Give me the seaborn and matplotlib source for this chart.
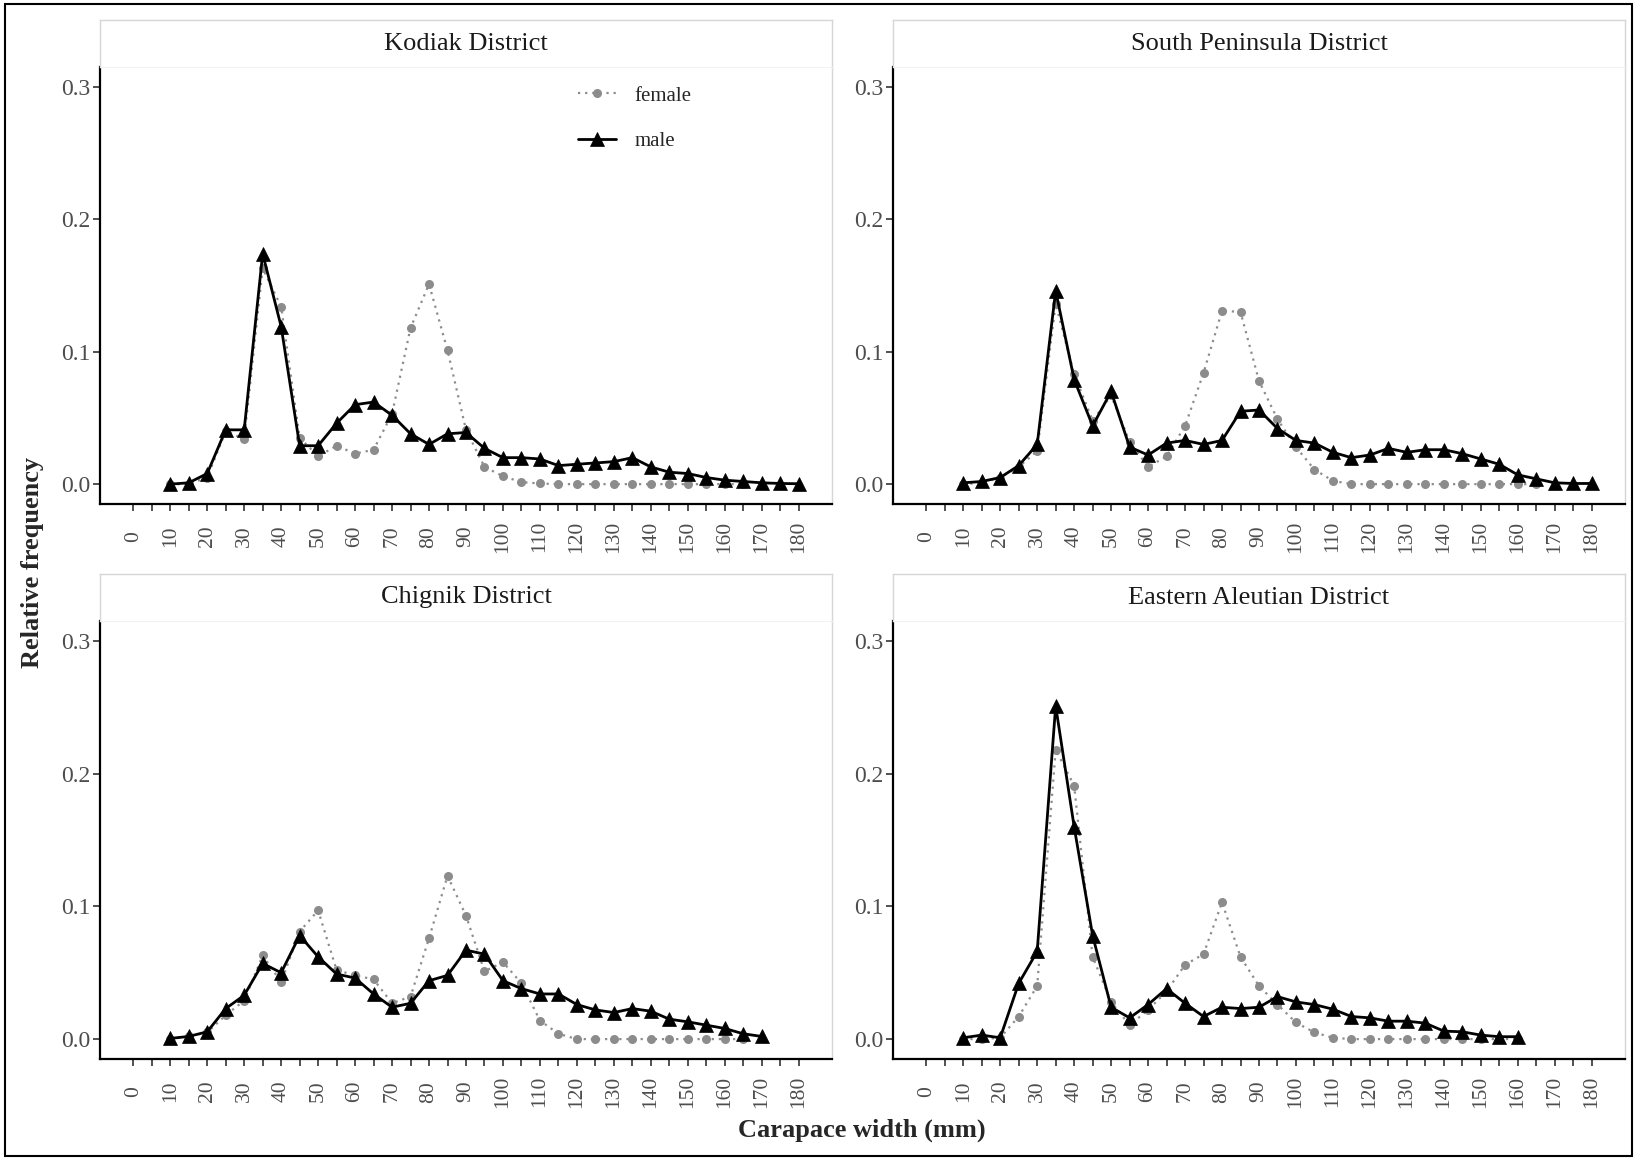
import numpy as np
import pandas as pd
import matplotlib
matplotlib.use("Agg")
import matplotlib.pyplot as plt
import seaborn as sns
from matplotlib.lines import Line2D
from matplotlib.patches import Rectangle

# carapace width bins (mm)
bins = [10, 15, 20, 25, 30, 35, 40, 45, 50, 55, 60, 65, 70, 75, 80, 85, 90, 95,
        100, 105, 110, 115, 120, 125, 130, 135, 140, 145, 150, 155, 160, 165,
        170, 175, 180]

districts = ["Kodiak District", "South Peninsula District",
             "Chignik District", "Eastern Aleutian District"]

kodiak_female = [0.0, 0.0, 0.005, 0.040, 0.034, 0.163, 0.134, 0.035, 0.021, 0.029,
                 0.023, 0.026, 0.053, 0.118, 0.151, 0.101, 0.041, 0.013, 0.006,
                 0.0015, 0.0005, 0.0, 0.0, 0.0, 0.0, 0.0, 0.0, 0.0, 0.0, 0.0, 0.0, 0.0]
kodiak_male = [0.0, 0.001, 0.008, 0.041, 0.041, 0.174, 0.119, 0.029, 0.029, 0.046,
               0.060, 0.062, 0.052, 0.038, 0.030, 0.038, 0.039, 0.027, 0.020, 0.020,
               0.019, 0.014, 0.015, 0.016, 0.017, 0.020, 0.013, 0.009, 0.008, 0.005,
               0.003, 0.002, 0.001, 0.0005, 0.0003]

south_pen_female = [0.0, 0.001, 0.005, 0.013, 0.025, 0.136, 0.083, 0.048, 0.067, 0.032,
                    0.013, 0.021, 0.044, 0.084, 0.131, 0.130, 0.078, 0.049, 0.028,
                    0.011, 0.0025, 0.0, 0.0, 0.0, 0.0, 0.0, 0.0, 0.0, 0.0, 0.0, 0.0, 0.0]
south_pen_male = [0.001, 0.002, 0.005, 0.014, 0.030, 0.146, 0.079, 0.044, 0.070, 0.028,
                  0.022, 0.031, 0.033, 0.030, 0.033, 0.055, 0.056, 0.042, 0.033, 0.031,
                  0.024, 0.020, 0.022, 0.027, 0.024, 0.026, 0.026, 0.023, 0.019, 0.015,
                  0.007, 0.004, 0.001, 0.0005, 0.0005]

chignik_female = [0.0, 0.002, 0.005, 0.018, 0.029, 0.063, 0.043, 0.081, 0.097, 0.052,
                  0.048, 0.045, 0.027, 0.032, 0.076, 0.123, 0.093, 0.051, 0.058, 0.042,
                  0.014, 0.004, 0.0, 0.0, 0.0, 0.0, 0.0, 0.0, 0.0, 0.0, 0.0, 0.0]
chignik_male = [0.0005, 0.002, 0.0055, 0.023, 0.033, 0.057, 0.050, 0.078, 0.062, 0.049,
                0.046, 0.034, 0.024, 0.027, 0.044, 0.048, 0.067, 0.064, 0.044, 0.038,
                0.034, 0.034, 0.026, 0.022, 0.020, 0.023, 0.021, 0.015, 0.013, 0.0105,
                0.008, 0.004, 0.002]

aleutian_female = [0.0, 0.0, 0.001, 0.017, 0.040, 0.218, 0.191, 0.062, 0.028, 0.0105,
                   0.022, 0.036, 0.056, 0.064, 0.103, 0.062, 0.040, 0.026, 0.0125,
                   0.005, 0.001, 0.0, 0.0, 0.0, 0.0, 0.0, 0.0, 0.0, 0.0, 0.0, 0.0]
aleutian_male = [0.001, 0.003, 0.001, 0.042, 0.066, 0.251, 0.160, 0.078, 0.024, 0.016,
                 0.026, 0.038, 0.027, 0.017, 0.024, 0.023, 0.024, 0.032, 0.028, 0.026,
                 0.0225, 0.017, 0.016, 0.0135, 0.0135, 0.012, 0.006, 0.0055, 0.003,
                 0.0018, 0.0018]

series = {
    "Kodiak District": (kodiak_female, kodiak_male),
    "South Peninsula District": (south_pen_female, south_pen_male),
    "Chignik District": (chignik_female, chignik_male),
    "Eastern Aleutian District": (aleutian_female, aleutian_male),
}

rows = []
for d in districts:
    fem, mal = series[d]
    for w, v in zip(bins, fem):
        rows.append((d, "female", w, v))
    for w, v in zip(bins, mal):
        rows.append((d, "male", w, v))
df = pd.DataFrame(rows, columns=["district", "sex", "width", "freq"])

W, H = 1637, 1160
sns.set_style("white")
plt.rcParams["font.family"] = ["Liberation Serif", "DejaVu Serif"]

fig = plt.figure(figsize=(W / 100, H / 100), dpi=100)


def px_box(x0, y0, x1, y1):
    return [x0 / W, 1 - y1 / H, (x1 - x0) / W, (y1 - y0) / H]


panels = [(100, 67, 832, 504), (893, 67, 1625, 504),
          (100, 621, 832, 1059), (893, 621, 1625, 1059)]
strip_h = 47
border_grey = "#d6d6d6"
female_col = "#8c8c8c"

axes = []
for d, (x0, y0, x1, y1) in zip(districts, panels):
    ax = fig.add_axes(px_box(x0, y0, x1, y1))
    sub = df[df["district"] == d]

    sns.lineplot(data=sub[sub["sex"] == "female"], x="width", y="freq", ax=ax,
                 color=female_col, linestyle=(0, (1, 2.2)), linewidth=1.6,
                 marker="o", markersize=6.5, markeredgewidth=0)
    sns.lineplot(data=sub[sub["sex"] == "male"], x="width", y="freq", ax=ax,
                 color="black", linewidth=2.0, marker="^", markersize=9.5,
                 markeredgewidth=0.5, markeredgecolor="black")

    ax.set_xlim(-9, 189)
    ax.set_ylim(-0.015, 0.315)
    ticks = list(range(0, 181, 5))
    ax.set_xticks(ticks)
    ax.set_xticklabels([str(t) if t % 10 == 0 else "" for t in ticks],
                       rotation=90, va="center", ha="center")
    ax.set_yticks([0, 0.1, 0.2, 0.3])
    ax.set_yticklabels(["0.0", "0.1", "0.2", "0.3"])
    ax.tick_params(axis="x", length=5, width=1.2, color="#333333",
                   labelsize=15.5, labelcolor="#4d4d4d", pad=18.5, bottom=True)
    ax.tick_params(axis="y", length=5, width=1.2, color="#333333",
                   labelsize=17, labelcolor="#4d4d4d", pad=2, left=True)
    ax.set_xlabel("")
    ax.set_ylabel("")
    ax.grid(False)
    for s in ["left", "bottom"]:
        ax.spines[s].set_color("black")
        ax.spines[s].set_linewidth(1.6)
    ax.spines["top"].set_visible(False)
    ax.spines["right"].set_color(border_grey)
    ax.spines["right"].set_linewidth(1.0)

    # facet strip
    sax = fig.add_axes(px_box(x0, y0 - strip_h, x1, y0))
    sax.set_xticks([])
    sax.set_yticks([])
    sax.set_facecolor("white")
    for s in ["left", "top", "right"]:
        sax.spines[s].set_color(border_grey)
        sax.spines[s].set_linewidth(1.0)
    sax.spines["bottom"].set_color("#f2f2f2")
    sax.text(0.5, 0.5, d, ha="center", va="center", fontsize=19,
             color="#1a1a1a", transform=sax.transAxes)
    axes.append(ax)

handles = [
    Line2D([], [], color=female_col, linestyle=(0, (1, 2.2)), linewidth=1.6,
           marker="o", markersize=6.5, markeredgewidth=0),
    Line2D([], [], color="black", linewidth=2.0, marker="^", markersize=9.5,
           markeredgewidth=0.5, markeredgecolor="black"),
]
axes[0].legend(handles, ["female", "male"], loc="upper left",
               bbox_to_anchor=(578 / W, 1 - 86 / H), bbox_transform=fig.transFigure,
               frameon=False, fontsize=15, handlelength=1.8, handletextpad=0.9,
               labelspacing=1.25, borderpad=0, borderaxespad=0)

fig.text(33 / W, 1 - 562 / H, "Relative frequency", rotation=90, fontsize=19,
         fontweight="bold", ha="center", va="center")
fig.text(862 / W, 1 - 1130 / H, "Carapace width (mm)", fontsize=19,
         fontweight="bold", ha="center", va="center")

fig.patches.append(Rectangle((5 / W, 4 / H), 1627 / W, 1152 / H,
                             transform=fig.transFigure, fill=False,
                             edgecolor="black", linewidth=1.5))

fig.savefig("out.png", dpi=100)
